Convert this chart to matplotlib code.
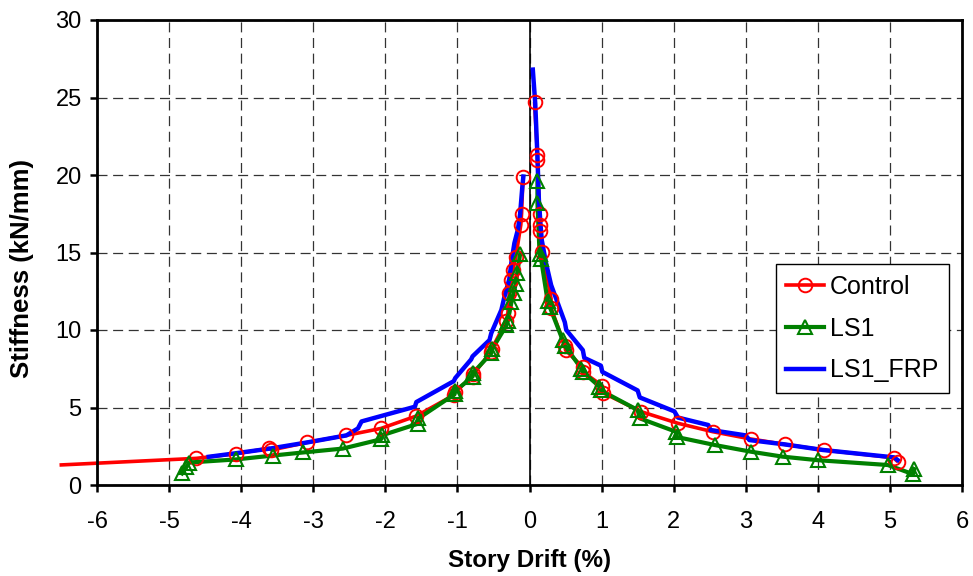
import numpy as np
import matplotlib
matplotlib.use("Agg")
import matplotlib.pyplot as plt
from matplotlib.lines import Line2D

plt.rcParams['font.family'] = ['Liberation Sans', 'DejaVu Sans']
plt.rcParams['axes.unicode_minus'] = False

# Stiffness vs. story drift, negative and positive half-cycles
control_neg_x = [-6.52, -4.62, -4.07, -3.61, -3.58, -3.08, -2.54, -2.06, -1.57, -1.05, -1.04,
                 -0.79, -0.78, -0.53, -0.52, -0.32, -0.30, -0.28, -0.25, -0.23, -0.19,
                 -0.12, -0.11, -0.09]
control_neg_y = [1.29, 1.72, 2.02, 2.37, 2.26, 2.75, 3.20, 3.65, 4.45, 5.80, 6.00,
                 7.00, 7.15, 8.60, 8.80, 10.6, 11.1, 12.4, 13.2, 13.9, 14.7,
                 16.8, 17.5, 19.9]
control_pos_x = [0.07, 0.11, 0.11, 0.14, 0.14, 0.15, 0.18, 0.30, 0.30, 0.49, 0.50, 0.74, 0.74,
                 1.01, 1.02, 1.55, 2.06, 2.54, 3.07, 3.54, 4.08, 5.05, 5.11]
control_pos_y = [24.7, 21.3, 21.0, 17.5, 16.8, 16.4, 15.05, 12.0, 11.4, 9.0, 8.7, 7.6, 7.3,
                 6.4, 5.95, 4.73, 3.98, 3.44, 2.97, 2.62, 2.26, 1.76, 1.50]

ls1_neg_x = [-4.82, -4.76, -4.72, -4.07, -3.56, -3.14, -2.59, -2.06, -2.05, -1.55, -1.54,
             -1.04, -1.03, -0.79, -0.78, -0.53, -0.52, -0.32, -0.30, -0.25, -0.22, -0.19,
             -0.17, -0.13]
ls1_neg_y = [0.75, 1.15, 1.45, 1.65, 1.90, 2.10, 2.35, 2.95, 3.20, 3.95, 4.30,
             5.85, 6.05, 7.00, 7.25, 8.50, 8.75, 10.3, 10.6, 11.8, 12.4, 13.0,
             13.7, 14.9]
ls1_pos_x = [0.11, 0.11, 0.14, 0.16, 0.25, 0.28, 0.46, 0.49, 0.72, 0.74, 0.97, 0.99,
             1.50, 1.53, 2.03, 2.04, 2.57, 3.07, 3.51, 4.00, 4.97, 5.32, 5.34]
ls1_pos_y = [19.6, 18.2, 14.9, 14.6, 11.9, 11.5, 9.35, 9.0, 7.5, 7.3, 6.35, 6.1,
             4.84, 4.30, 3.44, 3.10, 2.58, 2.15, 1.83, 1.60, 1.29, 0.70, 1.02]

frp_neg_x = [-4.45, -4.07, -3.60, -3.08, -2.54, -2.38, -2.33, -1.59, -1.57, -1.05, -1.03,
             -0.81, -0.79, -0.555, -0.53, -0.39, -0.35, -0.28, -0.25, -0.21, -0.16,
             -0.13, -0.10, -0.085]
frp_neg_y = [1.82, 2.05, 2.35, 2.75, 3.20, 3.65, 4.10, 5.05, 5.35, 6.70, 6.90,
             8.10, 8.30, 9.35, 9.80, 11.3, 12.1, 13.3, 14.4, 15.6, 16.5,
             17.5, 19.2, 19.9]
frp_pos_x = [0.046, 0.08, 0.11, 0.13, 0.15, 0.17, 0.23, 0.30, 0.49, 0.51, 0.74, 0.76,
             0.99, 1.01, 1.50, 1.53, 2.01, 2.06, 2.48, 2.51, 3.00, 3.05, 3.54, 4.07,
             5.06, 5.11]
frp_pos_y = [26.8, 24.6, 21.2, 18.4, 17.0, 15.8, 14.3, 12.9, 10.5, 10.0, 8.7, 8.2,
             7.7, 7.3, 6.1, 5.65, 4.75, 4.35, 3.87, 3.55, 3.2, 2.9, 2.62, 2.26,
             1.78, 1.60]

x_ticks = list(range(-6, 7))
y_ticks = list(range(0, 31, 5))


def join(neg_x, neg_y, pos_x, pos_y):
    x = np.array(list(neg_x) + [np.nan] + list(pos_x), dtype=float)
    y = np.array(list(neg_y) + [np.nan] + list(pos_y), dtype=float)
    return x, y


RED = '#ff0000'
GREEN = '#008000'
BLUE = '#0000ff'

fig = plt.figure(figsize=(9.73, 5.76), dpi=100)
ax = fig.add_axes([97 / 973, 1 - 485 / 576, 865 / 973, 465 / 576])

cx, cy = join(control_neg_x, control_neg_y, control_pos_x, control_pos_y)
gx, gy = join(ls1_neg_x, ls1_neg_y, ls1_pos_x, ls1_pos_y)
bx, by = join(frp_neg_x, frp_neg_y, frp_pos_x, frp_pos_y)

# lines
ax.plot(cx, cy, color=RED, lw=2.6, zorder=3, clip_on=False, solid_capstyle='butt')
ax.plot(gx, gy, color=GREEN, lw=3.0, zorder=4)
ax.plot(bx, by, color=BLUE, lw=3.2, zorder=5)

# markers (the leftmost control point lies beyond the axis and carries no marker)
mask = cx >= -6
ax.plot(cx[mask], cy[mask], ls='none', marker='o', ms=9.8, mfc='none', mec=RED, mew=1.4, zorder=6)
ax.plot(gx, gy, ls='none', marker='^', ms=10, mfc='none', mec=GREEN, mew=1.5, zorder=7)

ax.set_xlim(-6, 6)
ax.set_ylim(0, 30)
ax.set_xticks(x_ticks)
ax.set_yticks(y_ticks)
ax.set_xticklabels([str(v) for v in x_ticks])
ax.set_yticklabels([str(v) for v in y_ticks])
ax.tick_params(axis='both', direction='out', length=5, width=1.8, labelsize=17)
ax.tick_params(axis='x', pad=14)
ax.tick_params(axis='y', pad=6)
ax.tick_params(top=False, right=False)

ax.grid(True, which='major', color='#333333', lw=0.9, ls=(0, (8, 4.5)), zorder=1)
ax.axvline(0, color='black', lw=1.2, zorder=2)

for s in ax.spines.values():
    s.set_linewidth(2.0)
    s.set_color('black')
    s.set_zorder(8)

fig.text(22 / 973, 1 - 268 / 576, 'Stiffness (kN/mm)', rotation=90, ha='center', va='center',
         fontsize=18.5, fontweight='bold')
fig.text(530 / 973, 1 - 560 / 576, 'Story Drift (%)', ha='center', va='center',
         fontsize=17.5, fontweight='bold')

handles = [
    Line2D([], [], color=RED, lw=2.6, marker='o', ms=9.8, mfc='none', mec=RED, mew=1.4),
    Line2D([], [], color=GREEN, lw=3.0, marker='^', ms=10, mfc='none', mec=GREEN, mew=1.5),
    Line2D([], [], color=BLUE, lw=3.2),
]
leg = ax.legend(handles, ['Control', 'LS1', 'LS1_FRP'], loc='upper left',
                bbox_to_anchor=((776 - 97) / 865, (485 - 264) / 465),
                fontsize=18, frameon=True, fancybox=False, edgecolor='black',
                framealpha=1, handlelength=1.5, handletextpad=0.25, labelspacing=0.72,
                borderpad=0.42, borderaxespad=0)
leg.get_frame().set_linewidth(1.0)
leg.set_zorder(10)

fig.savefig('out.png', dpi=100)
